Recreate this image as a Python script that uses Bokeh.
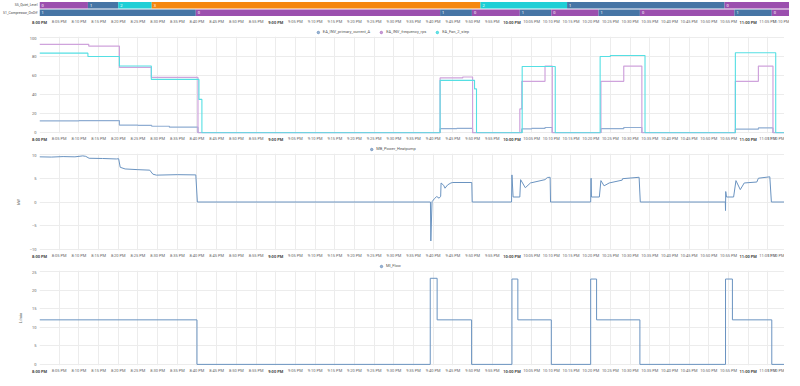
import pandas as pd
from bokeh.plotting import figure
from bokeh.layouts import column
from bokeh.models import (Range1d, FactorRange, FixedTicker, DatetimeTickFormatter, Legend,
                          LegendItem, ColumnDataSource, CategoricalColorMapper, DatetimeAxis)
from bokeh.core.properties import value
from bokeh.embed import file_html
from bokeh.resources import INLINE

DAY = "2024-01-01 "
def T(lst):
    return pd.to_datetime([DAY + s for s in lst])

# ---------------- data ----------------
state_names = ["0", "1", "2", "3"]
state_colors = ["#9b4fae", "#4675a5", "#1fcfd6", "#f5870f"]

quiet_start = ["20:00:00", "20:12:18", "20:20:00", "20:28:30", "21:52:00", "22:14:00", "22:54:00"]
quiet_end = ["20:12:18", "20:20:00", "20:28:30", "21:52:00", "22:14:00", "22:54:00", "23:10:30"]
quiet_value = ["0", "1", "2", "3", "2", "1", "0"]

comp_start = ["20:00:00", "20:39:42", "21:41:45", "21:49:50", "22:02:00", "22:10:00",
              "22:22:00", "22:32:30", "22:56:30", "23:06:00"]
comp_end = ["20:39:42", "21:41:45", "21:49:50", "22:02:00", "22:10:00", "22:22:00",
            "22:32:30", "22:56:30", "23:06:00", "23:10:30"]
comp_value = ["1", "0", "1", "0", "1", "0", "1", "0", "1", "0"]

cur_t = ["20:00:00", "20:10:00", "20:20:18", "20:25:00", "20:28:30", "20:33:00", "20:40:15",
         "21:41:45", "21:46:00", "21:50:00", "22:02:30", "22:05:00", "22:08:24", "22:10:15",
         "22:22:36", "22:28:24", "22:33:00", "22:56:45", "23:02:36", "23:06:18", "23:10:30"]
cur_v = [12.4, 12.7, 8.0, 7.7, 6.8, 5.8, 0,
         4.3, 4.5, 0, 4.0, 4.5, 5.5, 0,
         4.3, 5.5, 0, 3.7, 5.0, 0, 0]

freq_t = ["20:00:00", "20:12:30", "20:20:18", "20:28:24", "20:40:15", "21:41:45", "21:47:30",
          "21:50:00", "22:02:00", "22:02:30", "22:08:24", "22:10:15", "22:22:36", "22:28:24",
          "22:33:00", "22:56:45", "23:02:36", "23:06:18", "23:10:30"]
freq_v = [92.8, 91.0, 68.5, 58.0, 0, 57.5, 58.5,
          0, 25, 54, 70, 0, 54, 70,
          0, 54, 70, 0, 0]

fan_t = ["20:00:00", "20:12:18", "20:20:18", "20:28:24", "20:40:30", "20:41:15", "21:41:45",
         "21:50:30", "21:51:00", "22:02:36", "22:11:00", "22:22:24", "22:25:00", "22:33:48",
         "22:56:45", "23:07:00", "23:10:30"]
fan_v = [83.5, 80, 70, 56, 35, 0, 55,
         46, 0, 69.5, 0, 80, 81, 0,
         84, 0, 0]

pow_t = ["20:00:00", "20:03:00", "20:06:00", "20:09:00", "20:11:00", "20:11:45", "20:12:36",
         "20:16:00", "20:19:30", "20:20:06", "20:20:30", "20:21:45", "20:25:00", "20:28:00",
         "20:28:48", "20:29:42", "20:35:00", "20:39:42", "20:40:06", "21:39:18", "21:39:24",
         "21:39:42", "21:40:18", "21:40:54", "21:41:30", "21:41:54", "21:42:00", "21:42:40",
         "21:43:00", "21:43:40", "21:44:30", "21:45:00", "21:49:48", "21:49:54", "21:59:54",
         "22:00:00", "22:00:18", "22:02:00", "22:02:12", "22:03:24", "22:04:42", "22:08:24",
         "22:09:00", "22:09:42", "22:09:48", "22:20:00", "22:20:06", "22:20:12", "22:22:12",
         "22:22:36", "22:23:24", "22:24:42", "22:28:00", "22:28:06", "22:32:18", "22:32:36",
         "22:54:12", "22:54:15", "22:54:18", "22:54:30", "22:56:18", "22:56:54", "22:58:00",
         "22:59:00", "23:02:12", "23:02:36", "23:05:30", "23:05:54", "23:10:30"]
pow_v = [9.5, 9.45, 9.55, 9.5, 9.7, 9.6, 9.2,
         9.15, 9.05, 9.1, 7.3, 6.95, 6.8, 6.7,
         5.85, 5.65, 5.75, 5.7, 0, 0, -8.2,
         0.05, 0.7, 1.15, 0.8, 1.2, 4.0, 3.5,
         2.9, 3.6, 4.0, 4.1, 4.1, 0, 0,
         5.7, 1.05, 1.05, 4.7, 3.0, 4.0, 4.7,
         5.15, 5.2, 0, 0, 5.0, 1.05, 1.05,
         4.5, 3.4, 4.0, 4.6, 4.9, 5.2, 0,
         0, -1.8, 2.2, 1.05, 1.05, 4.5, 2.6,
         4.0, 4.2, 5.0, 5.3, 0, 0]

flow_t = ["20:00:00", "20:40:00", "21:39:15", "21:41:00", "21:49:45", "22:00:00", "22:01:30",
          "22:10:00", "22:20:00", "22:21:30", "22:32:30", "22:54:15", "22:56:00", "23:06:00",
          "23:10:30"]
flow_v = [12, 0, 23.2, 12, 0, 23.0, 12, 0, 23.0, 12, 0, 23.0, 12, 0, 0]

rows = ["S1_Compressor_OnOff", "SS_Quiet_Level"]

# ---------------- styling ----------------
FW = 750          # frame width
LB = 34           # left border
FONT = "Roboto"
TICK_FS = "4px"
GRID = "#ececec"
x_start = pd.Timestamp(DAY + "20:00:00")
x_end = pd.Timestamp(DAY + "23:10:30")
xr = Range1d(x_start, x_end)
all_ticks = pd.date_range(x_start, DAY + "23:10:00", freq="5min")
ticks = [t.value / 1e6 for t in all_ticks]
hour_ticks = [t.value / 1e6 for t in all_ticks if t.minute == 0]
minute_ticks = [t.value / 1e6 for t in all_ticks if t.minute != 0]
fmt = DatetimeTickFormatter(minsec="%-I:%M %p", minutes="%-I:%M %p", hourmin="%-I:%M %p",
                            hours="%-I:%M %p", context=None)


def make_fig(frame_h, y_range):
    return figure(frame_width=FW, frame_height=frame_h, x_range=xr, y_range=y_range,
                  output_backend="svg", toolbar_location=None,
                  min_border_left=LB, min_border_right=0, min_border_top=0,
                  min_border_bottom=0)


def style_axis(ax):
    ax.axis_line_color = None
    ax.major_tick_line_color = None
    ax.minor_tick_line_color = None
    ax.major_tick_out = 0
    ax.major_tick_in = 0
    ax.minor_tick_out = 0
    ax.minor_tick_in = 0
    ax.major_label_text_font_size = TICK_FS
    ax.major_label_text_font = FONT
    ax.major_label_text_color = "#666666"


def style(p, ylabel=None):
    p.outline_line_color = None
    for ax in p.axis:
        style_axis(ax)
        ax.major_label_standoff = 3
    p.xaxis.ticker = FixedTicker(ticks=minute_ticks)
    p.xaxis.formatter = fmt
    p.xaxis.major_label_standoff = 2
    hx = DatetimeAxis(ticker=FixedTicker(ticks=hour_ticks), formatter=fmt)
    style_axis(hx)
    hx.major_label_text_font_style = "bold"
    hx.major_label_text_color = "#444444"
    hx.major_label_standoff = -7
    p.add_layout(hx, "below")
    p.xgrid.ticker = FixedTicker(ticks=ticks)
    p.xgrid.grid_line_color = GRID
    p.ygrid.grid_line_color = GRID
    if ylabel:
        p.yaxis.axis_label = ylabel
        p.yaxis.axis_label_text_font_size = TICK_FS
        p.yaxis.axis_label_text_font = FONT
        p.yaxis.axis_label_text_font_style = "normal"
        p.yaxis.axis_label_text_color = "#666666"
        p.yaxis.axis_label_standoff = 6


def legend_fig(legend_items):
    lf = figure(frame_width=FW, frame_height=9, x_range=xr, y_range=Range1d(0, 1),
                output_backend="svg", toolbar_location=None,
                min_border_left=LB, min_border_right=0, min_border_top=0, min_border_bottom=0,
                x_axis_location=None, y_axis_location=None)
    lf.grid.visible = False
    lf.outline_line_color = None
    items = []
    for label, color in legend_items:
        r = lf.scatter(x=[x_start], y=[-5], marker="circle", size=5, fill_color=color,
                       line_color=color, fill_alpha=0.75)
        items.append(LegendItem(label=label, renderers=[r]))
    lg = Legend(items=items, orientation="horizontal", location="center",
                label_text_font_size="4px", label_text_font=FONT,
                label_text_color="#555555", label_height=6, label_standoff=2,
                glyph_height=6, glyph_width=6, spacing=8, padding=0, margin=0,
                border_line_color=None, background_fill_alpha=0)
    lf.add_layout(lg)
    return lf


# ---------------- timeline ----------------
pt = make_fig(15, FactorRange(*rows))
pt.min_border_top = 1
cmap = CategoricalColorMapper(factors=state_names, palette=state_colors)
src_q = ColumnDataSource(dict(l=T(quiet_start), r=T(quiet_end), y=[rows[1]] * len(quiet_value),
                              v=quiet_value))
src_c = ColumnDataSource(dict(l=T(comp_start), r=T(comp_end), y=[rows[0]] * len(comp_value),
                              v=comp_value))
for src in (src_q, src_c):
    pt.hbar(y="y", left="l", right="r", height=0.86, source=src,
            fill_color={"field": "v", "transform": cmap}, line_color=None)
    pt.text(x="l", y="y", text="v", source=src, x_offset=2, text_baseline="middle",
            text_align="left", text_color="white", text_font_size="4px",
            text_font=value(FONT))
style(pt)
pt.ygrid.grid_line_color = None
pt.xgrid.grid_line_color = None
pt.yaxis.major_label_text_color = "#444444"
pt.yaxis.major_label_standoff = 2
pt.yaxis.major_label_text_font_size = "3.4px"

# ---------------- panel 1 ----------------
l1 = legend_fig([("EA_INV_primary_current_A", "#7b9cc4"), ("EA_INV_frequency_rps", "#b77fc8"),
                 ("EA_Fan_2_step", "#3fd8dd")])
p1 = make_fig(97, Range1d(-0.8, 101))
p1.step(x=T(cur_t), y=cur_v, mode="after", line_color="#8fadd2", line_width=1.2)
p1.step(x=T(freq_t), y=freq_v, mode="after", line_color="#cfa3dc", line_width=1.2)
p1.step(x=T(fan_t), y=fan_v, mode="after", line_color="#55dfe3", line_width=1.1)
p1.yaxis.ticker = FixedTicker(ticks=[0, 20, 40, 60, 80, 100])
style(p1)

# ---------------- panel 2 ----------------
l2 = legend_fig([("MB_Power_Heatpump", "#7b9cc4")])
p2 = make_fig(97, Range1d(-10.2, 10.2))
p2.line(x=T(pow_t), y=pow_v, line_color="#6a93c0", line_width=1.0)
p2.yaxis.ticker = FixedTicker(ticks=[-10, -5, 0, 5, 10])
style(p2, ylabel="kW")

# ---------------- panel 3 ----------------
l3 = legend_fig([("MI_Flow", "#7b9cc4")])
p3 = make_fig(95, Range1d(-0.3, 25.3))
p3.step(x=T(flow_t), y=flow_v, mode="after", line_color="#6a93c0", line_width=1.0)
p3.yaxis.ticker = FixedTicker(ticks=[0, 5, 10, 15, 20, 25])
style(p3, ylabel="L/min")

layout = column(pt, l1, p1, l2, p2, l3, p3, spacing=0)
open("out.html", "w").write(file_html(layout, INLINE))
